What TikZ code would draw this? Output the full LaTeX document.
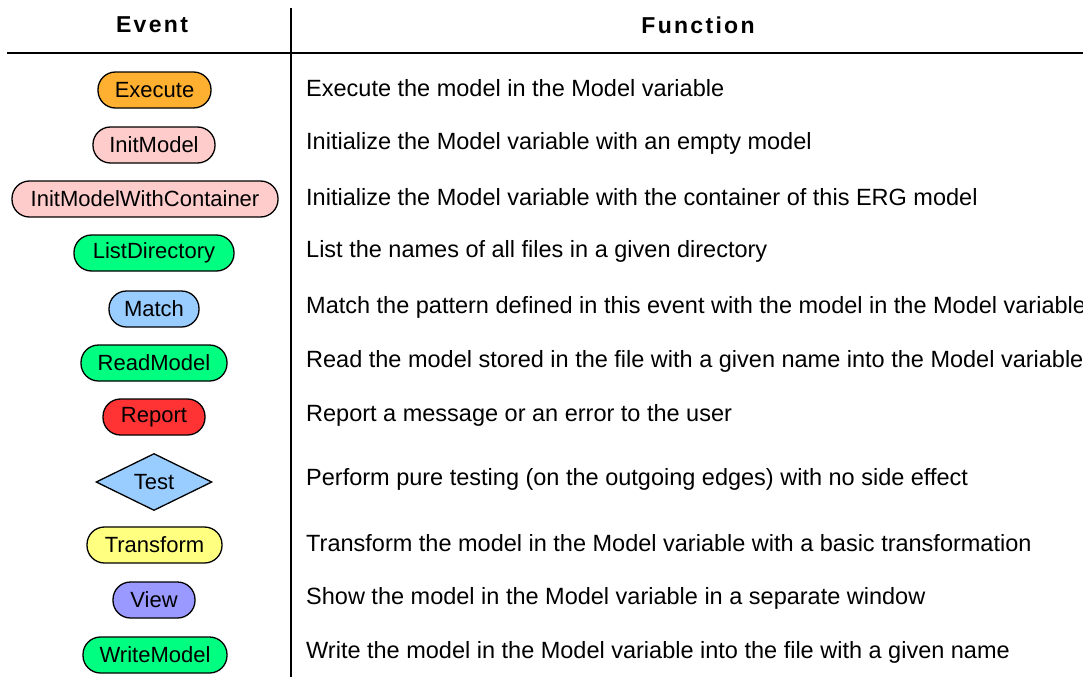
\documentclass[tikz,border=0pt]{standalone}
\usepackage{fontspec}
\setmainfont{Liberation Sans}
\usetikzlibrary{shapes.geometric}
\definecolor{cExec}{HTML}{FFB030}
\definecolor{cInit}{HTML}{FFCCCC}
\definecolor{cGreen}{HTML}{00FF80}
\definecolor{cBlue}{HTML}{99CCFF}
\definecolor{cRed}{HTML}{FF3333}
\definecolor{cYellow}{HTML}{FFFF80}
\definecolor{cView}{HTML}{9999FF}
\newcommand{\hk}{\kern2.3pt}
\tikzset{
  evt/.style={draw=black, line width=1.3pt, rounded corners=17.5pt,
    minimum height=36pt, inner xsep=0pt, inner ysep=0pt,
    font=\fontsize{22}{26}\selectfont},
  dec/.style={draw=black, line width=1.3pt, diamond, aspect=2.05,
    minimum width=116pt, minimum height=57pt, inner sep=0pt,
    font=\fontsize{22}{26}\selectfont},
  fn/.style={anchor=west, inner sep=0pt, font=\fontsize{23.5}{28}\selectfont},
  head/.style={font=\fontsize{23}{27}\selectfont\bfseries},
  rule/.style={line width=2.4pt, black}
}
\begin{document}
\begin{tikzpicture}[x=1pt,y=-1pt]
\useasboundingbox (0,0) rectangle (1083,677);
\fill[white] (0,0) rectangle (1083,677);

% table rules
\coordinate (hl) at (7,53);
\coordinate (hr) at (1083,53);
\coordinate (vt) at (291,8);
\coordinate (vb) at (291,677);
\draw[rule] (hl) -- (hr);
\draw[rule] (vt) -- (vb);

% headers
\node[head] (hEvent) at (152,25) {E\hk v\hk e\hk n\hk t};
\node[head] (hFunc) at (698,25) {F\hk u\hk n\hk c\hk t\hk i\hk o\hk n};

% event symbols
\node[evt, fill=cExec, minimum width=113pt] (e1) at (154.5,90) {Execute};
\node[evt, fill=cInit, minimum width=122pt] (e2) at (154,145) {InitModel};
\node[evt, fill=cInit, minimum width=266pt] (e3) at (145,199) {InitModelWithContainer};
\node[evt, fill=cGreen, minimum width=160pt] (e4) at (154,253) {ListDirectory};
\node[evt, fill=cBlue, minimum width=90pt] (e5) at (154,309) {Match};
\node[evt, fill=cGreen, minimum width=146pt] (e6) at (154,363) {ReadModel};
\node[evt, fill=cRed, minimum width=102pt] (e7) at (154,417) {Report};
\node[dec, fill=cBlue] (e8) at (154,482) {Test};
\node[evt, fill=cYellow, minimum width=135pt] (e9) at (154.5,545) {Transform};
\node[evt, fill=cView, minimum width=82pt] (e10) at (154,600) {View};
\node[evt, fill=cGreen, minimum width=144pt] (e11) at (155,655) {WriteModel};

% descriptions
\node[fn] (f1) at (306,88) {Execute the model in the Model variable};
\node[fn] (f2) at (306,143) {Initialize the Model variable with an empty model};
\node[fn] (f3) at (306,197) {Initialize the Model variable with the container of this ERG model};
\node[fn] (f4) at (306,251) {List the names of all files in a given directory};
\node[fn] (f5) at (306,307) {Match the pattern defined in this event with the model in the Model variable};
\node[fn] (f6) at (306,361) {Read the model stored in the file with a given name into the Model variable};
\node[fn] (f7) at (306,415) {Report a message or an error to the user};
\node[fn] (f8) at (306,479) {Perform pure testing (on the outgoing edges) with no side effect};
\node[fn] (f9) at (306,543) {Transform the model in the Model variable with a basic transformation};
\node[fn] (f10) at (306,598) {Show the model in the Model variable in a separate window};
\node[fn] (f11) at (306,652) {Write the model in the Model variable into the file with a given name};
\end{tikzpicture}
\end{document}
